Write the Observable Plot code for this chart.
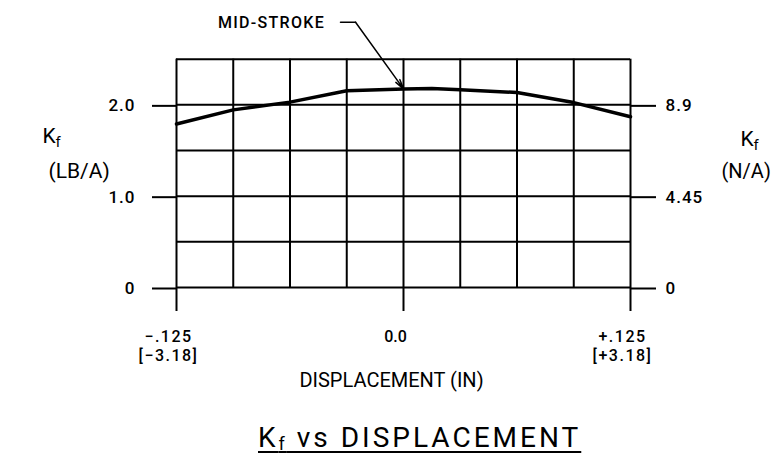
<!DOCTYPE html>
<html>
<head>
<meta charset="utf-8">
<script src="https://cdn.jsdelivr.net/npm/d3@7"></script>
<script src="https://cdn.jsdelivr.net/npm/@observablehq/plot@0.6"></script>
<style>
  html, body { margin: 0; padding: 0; background: #fff; }
  #chart svg { display: block; }
  #title {
    font-family: "Roboto", sans-serif;
    font-size: 28px;
    line-height: 32px;
    height: 32px;
    margin-left: 258px;
    letter-spacing: 3px;
    color: #000;
    white-space: nowrap;
    text-decoration: underline;
    text-decoration-thickness: 2px;
    text-underline-offset: 4px;
  }
  #title sub { font-size: 18px; line-height: 0; vertical-align: -3px; letter-spacing: 2px; }
</style>
</head>
<body>
<div id="chart"></div>
<div id="title">K<sub>f</sub> vs DISPLACEMENT</div>
<script>
// ---- data ----
const displacement = [-0.125, -0.09375, -0.0625, -0.03125, 0, 0.015625, 0.03125, 0.0625, 0.09375, 0.125];
const kf = [1.79, 1.945, 2.03, 2.155, 2.175, 2.18, 2.165, 2.135, 2.025, 1.87];

const gridXValues = [-0.125, -0.09375, -0.0625, -0.03125, 0, 0.03125, 0.0625, 0.09375, 0.125];
const gridYValues = [0, 0.5, 1, 1.5, 2, 2.5];

const xTicks = [-0.125, 0, 0.125];
const xTickLabels = ["\u2212.125\n[\u22123.18]", "0.0", "+.125\n[+3.18]"];

const yTicks = [0, 1, 2];
const yTickLabelsLb = ["0", "1.0", "2.0"];
const yTickLabelsN = ["0", "4.45", "8.9"];

const xLabel = "DISPLACEMENT (IN)";
const yLabelLeft = ["K", "f", "(LB/A)"];
const yLabelRight = ["K", "f", "(N/A)"];

// annotation (in data units)
const midStrokeLabel = "MID-STROKE";
const midStrokeTarget = 0;
const midStrokeLabelAt = [-0.0727, 2.895];
const midStrokeLeader = [[-0.0347, 2.905], [-0.0264, 2.905]];

// ---- build ----
const curve = displacement.map((d, i) => ({d, kf: kf[i]}));
const targetKf = kf[displacement.indexOf(midStrokeTarget)];
const leaderPts = midStrokeLeader.map(([x, y]) => ({x, y}));

const svg = Plot.plot({
  width: 771,
  height: 422,
  marginLeft: 176,
  marginRight: 141,
  marginTop: 58.7,
  marginBottom: 135,
  x: {domain: [-0.125, 0.125]},
  y: {domain: [0, 2.5]},
  style: {fontFamily: "Roboto, sans-serif", fontSize: "16px", color: "black", background: "white"},
  marks: [
    Plot.gridX(gridXValues, {stroke: "black", strokeOpacity: 1, strokeWidth: 2}),
    Plot.gridY(gridYValues, {stroke: "black", strokeOpacity: 1, strokeWidth: 2}),
    Plot.axisX(xTicks, {anchor: "bottom", tickSize: 24, tickFormat: () => "", strokeWidth: 2, label: null}),
    Plot.text(xTicks, {
      x: d => d, text: (d, i) => xTickLabels[i],
      frameAnchor: "bottom", dy: 41, dx: -8, lineAnchor: "top", lineHeight: 1.19, fontSize: 16, fontWeight: 500
    }),
    Plot.axisY(yTicks, {
      anchor: "left", tickSize: 24, tickPadding: 17, strokeWidth: 2, label: null, fontSize: 17, fontWeight: 500, dy: 1,
      tickFormat: d => yTickLabelsLb[yTicks.indexOf(d)]
    }),
    Plot.axisY(yTicks, {
      anchor: "right", tickSize: 25, tickPadding: 10, strokeWidth: 2, label: null, fontSize: 17, fontWeight: 500, dy: 1,
      tickFormat: d => yTickLabelsN[yTicks.indexOf(d)]
    }),
    Plot.line(curve, {x: "d", y: "kf", stroke: "black", strokeWidth: 3.5}),
    // annotation
    Plot.text([midStrokeLabel], {x: midStrokeLabelAt[0], y: midStrokeLabelAt[1], text: d => d, fontSize: 16, fontWeight: 500}),
    Plot.line(leaderPts, {x: "x", y: "y", stroke: "black", strokeWidth: 1.5}),
    Plot.arrow([0], {
      x1: () => midStrokeLeader[1][0], y1: () => midStrokeLeader[1][1],
      x2: () => midStrokeTarget, y2: () => targetKf,
      stroke: "black", strokeWidth: 1.5, headLength: 10, headAngle: 28
    }),
    // x axis title
    Plot.text([xLabel], {text: d => d, frameAnchor: "bottom", dx: -12, dy: 99, fontSize: 20}),
    // left y title
    Plot.text([yLabelLeft[0]], {text: d => d, frameAnchor: "left", dx: -134, dy: -37, textAnchor: "start", fontSize: 21}),
    Plot.text([yLabelLeft[1]], {text: d => d, frameAnchor: "left", dx: -121, dy: -31, textAnchor: "start", fontSize: 15}),
    Plot.text([yLabelLeft[2]], {text: d => d, frameAnchor: "left", dx: -128, dy: -2, fontSize: 21}),
    // right y title
    Plot.text([yLabelRight[0]], {text: d => d, frameAnchor: "right", dx: 110, dy: -34, textAnchor: "start", fontSize: 21}),
    Plot.text([yLabelRight[1]], {text: d => d, frameAnchor: "right", dx: 123, dy: -28, textAnchor: "start", fontSize: 15}),
    Plot.text([yLabelRight[2]], {text: d => d, frameAnchor: "right", dx: 91, dy: -2, textAnchor: "start", fontSize: 20})
  ]
});

// letter spacing tweaks to mimic the CAD lettering
d3.select(svg).selectAll("text").each(function () {
  const t = this.textContent;
  if (t === midStrokeLabel) d3.select(this).style("letter-spacing", "1.3px");
  else if (yTickLabelsLb.includes(t) || yTickLabelsN.includes(t)) d3.select(this).style("letter-spacing", "1px");
});
d3.select(svg).selectAll("tspan").filter(function () {
  return xTickLabels.some(l => l.split("\n").includes(this.textContent));
}).style("letter-spacing", "1.5px");

document.getElementById("chart").append(svg);
</script>
</body>
</html>
